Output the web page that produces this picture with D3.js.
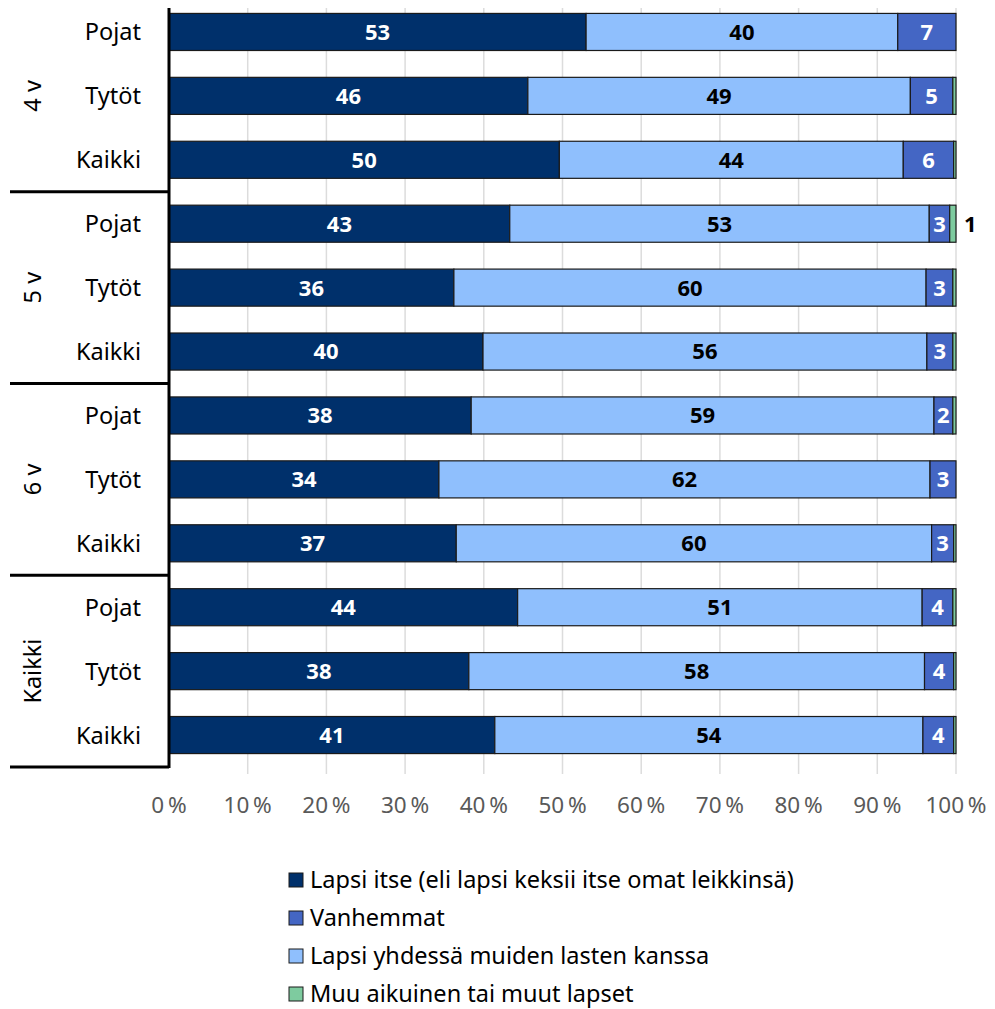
<!DOCTYPE html>
<html><head><meta charset="utf-8">
<script src="https://cdn.jsdelivr.net/npm/d3@7"></script>
<style>
html,body{margin:0;padding:0;background:#fff;}
svg{display:block;font-family:"Noto Sans","Open Sans",sans-serif;}
</style></head>
<body>
<svg id="chart" width="995" height="1009"></svg>
<script>
const groups = ["4 v","5 v","6 v","Kaikki"];
const genders = ["Pojat","Tytöt","Kaikki"];
const seriesNames = ["Lapsi itse (eli lapsi keksii itse omat leikkinsä)","Lapsi yhdessä muiden lasten kanssa","Vanhemmat","Muu aikuinen tai muut lapset"];
const lapsiItse = [53.0,45.6,49.6,43.3,36.2,39.9,38.4,34.3,36.5,44.3,38.1,41.4];
const yhdessa   = [39.6,48.6,43.7,53.3,60.0,56.4,58.8,62.4,60.4,51.4,57.9,54.4];
const vanhemmat = [7.4,5.4,6.4,2.6,3.4,3.3,2.4,3.3,2.8,3.9,3.7,3.9];
const muu       = [0.0,0.4,0.3,0.8,0.4,0.4,0.4,0.0,0.3,0.4,0.3,0.3];
const ticks = [0,10,20,30,40,50,60,70,80,90,100];
const legendOrder = [0,2,1,3];
const colors = ["#00306b","#8fbffd","#4466c4","#7ecb9f"];
const labelColors = ["#fff","#000","#fff","#000"];

const svg = d3.select("#chart");
const x0 = 169, x1 = 956, yTop = 0, yBot = 767;
const x = d3.scaleLinear().domain([0,100]).range([x0,x1]);
const rows = [];
groups.forEach((g,gi)=>genders.forEach((s,si)=>rows.push({g,gi,s,i:gi*3+si})));
const y = d3.scaleBand().domain(rows.map(r=>r.i)).range([yTop,yBot]).paddingInner(0.42).paddingOuter(0.21);
const groupScale = d3.scaleBand().domain(groups).range([yTop,yBot]);

// gridlines
svg.append("g").selectAll("line").data(ticks.filter(t=>t>0)).join("line")
  .attr("x1",d=>x(d)).attr("x2",d=>x(d)).attr("y1",8).attr("y2",yBot+7)
  .attr("stroke","#dcdcdc").attr("stroke-width",1.5);

const series = [lapsiItse,yhdessa,vanhemmat,muu];
const stackData = rows.map(r=>{
  let acc=0; return series.map((arr,k)=>{const v=arr[r.i]; const o={k,row:r.i,v,start:acc,end:acc+v}; acc+=v; return o;});
}).flat();

svg.append("g").selectAll("rect").data(stackData.filter(d=>d.v>0)).join("rect")
  .attr("x",d=>x(d.start)).attr("width",d=>x(d.end)-x(d.start))
  .attr("y",d=>y(d.row)).attr("height",y.bandwidth())
  .attr("fill",d=>colors[d.k]).attr("stroke","#1a1a1a").attr("stroke-width",1.2);

// value labels
const lab = svg.append("g").attr("font-weight","bold").attr("font-size",22);
stackData.filter(d=>d.k<3 && d.v>=1.5).forEach(d=>{
  lab.append("text").attr("x",(x(d.start)+x(d.end))/2).attr("y",y(d.row)+y.bandwidth()/2)
    .attr("dy","0.36em").attr("text-anchor","middle").attr("fill",labelColors[d.k])
    .text(Math.round(d.v));
});
stackData.filter(d=>d.k===3 && Math.round(d.v)>=1).forEach(d=>{
  lab.append("text").attr("x",x(d.end)+8).attr("y",y(d.row)+y.bandwidth()/2)
    .attr("dy","0.36em").attr("text-anchor","start").attr("fill","#000")
    .text(Math.round(d.v));
});

// axis line
svg.append("line").attr("x1",x0).attr("x2",x0).attr("y1",8).attr("y2",yBot+1)
  .attr("stroke","#000").attr("stroke-width",3);
// group separators
svg.append("g").selectAll("line").data(groups).join("line")
  .attr("x1",10).attr("x2",x0).attr("y1",d=>groupScale(d)+groupScale.bandwidth()).attr("y2",d=>groupScale(d)+groupScale.bandwidth())
  .attr("stroke","#000").attr("stroke-width",3);

// category labels
svg.append("g").selectAll("text").data(rows).join("text")
  .attr("x",141).attr("y",d=>y(d.i)+y.bandwidth()/2).attr("dy","0.36em")
  .attr("text-anchor","end").attr("font-size",23.5).attr("fill","#000").text(d=>d.s);
// group labels
svg.append("g").selectAll("text").data(groups).join("text")
  .attr("transform",d=>`translate(33,${groupScale(d)+groupScale.bandwidth()/2}) rotate(-90)`)
  .attr("dy","0.36em").attr("text-anchor","middle").attr("font-size",23.5).attr("fill","#000").text(d=>d);

// x tick labels
svg.append("g").selectAll("text").data(ticks).join("text")
  .attr("x",d=>x(d)).attr("y",805).attr("dy","0.36em").attr("text-anchor","middle")
  .attr("font-size",22.5).attr("fill","#595959").text(d=>d+"\u2009%");

// legend
const leg = svg.append("g");
legendOrder.forEach((k,j)=>{
  const ly = 880 + j*38;
  leg.append("rect").attr("x",289).attr("y",ly-7).attr("width",14).attr("height",14)
    .attr("fill",colors[k]).attr("stroke","#1a1a1a").attr("stroke-width",1);
  leg.append("text").attr("x",310).attr("y",ly).attr("dy","0.36em").attr("font-size",23.5)
    .attr("fill","#000").text(seriesNames[k]);
});
</script>
</body></html>
